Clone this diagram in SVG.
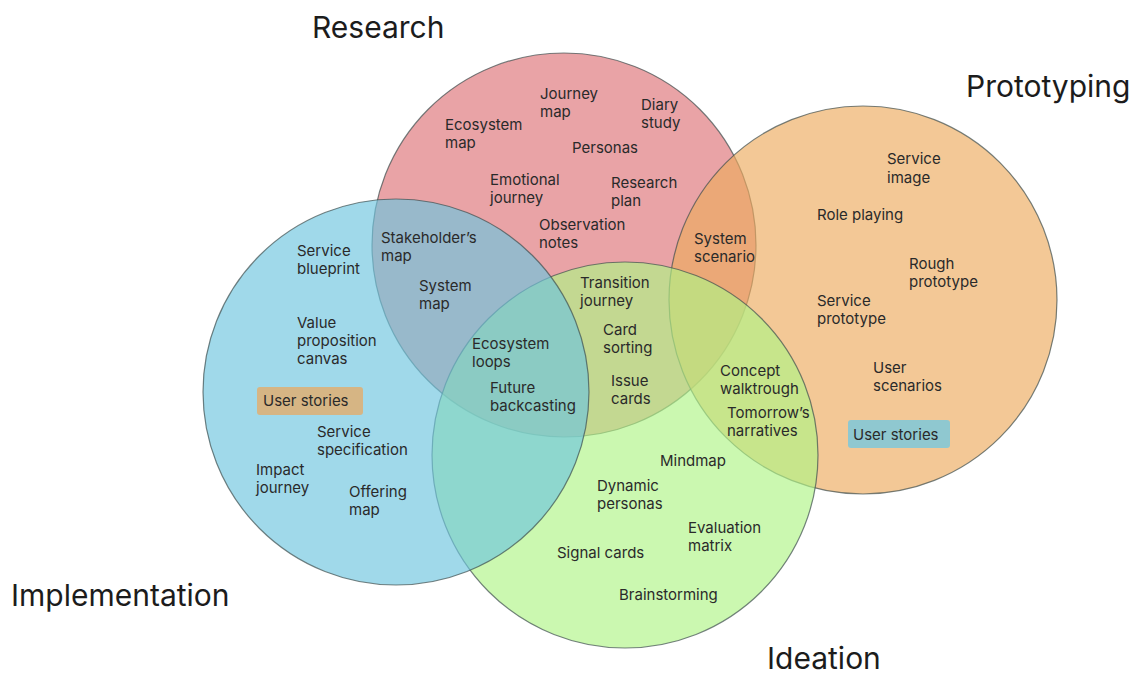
<svg xmlns="http://www.w3.org/2000/svg" width="1134" height="675" viewBox="0 0 1134 675">
  <style>
    .set { fill-opacity: 0.65; stroke: #3f4f4f; stroke-opacity: 0.7; stroke-width: 1.2; }
    .lbl { font-family: Inter, "Noto Sans", "Liberation Sans", sans-serif; font-size: 15px; fill: #2a2a2a; }
    .head { font-family: Inter, "Noto Sans", "Liberation Sans", sans-serif; font-size: 30px; fill: #1c1c1c; }
  </style>
  <rect width="1134" height="675" fill="#ffffff"/>

  <g id="research">
    <circle class="set" cx="564" cy="245" r="192" fill="#DD7176"/>
  </g>
  <g id="prototyping">
    <circle class="set" cx="863" cy="300" r="194" fill="#EDAA5E"/>
  </g>
  <g id="ideation">
    <circle class="set" cx="625" cy="455" r="193" fill="#AFF486"/>
  </g>
  <g id="implementation">
    <circle class="set" cx="396" cy="392" r="193" fill="#6DC5DF"/>
  </g>

  <g id="connectors"></g>

  <g id="headings">
    <text class="head" x="312" y="38">Research</text>
    <text class="head" x="966" y="97">Prototyping</text>
    <text class="head" x="11" y="606">Implementation</text>
    <text class="head" x="767" y="669">Ideation</text>
  </g>

  <g id="research-labels">
    <text class="lbl" x="540" y="99">Journey<tspan x="540" dy="18">map</tspan></text>
    <text class="lbl" x="641" y="110">Diary<tspan x="641" dy="18">study</tspan></text>
    <text class="lbl" x="445" y="130">Ecosystem<tspan x="445" dy="18">map</tspan></text>
    <text class="lbl" x="572" y="153">Personas</text>
    <text class="lbl" x="490" y="185">Emotional<tspan x="490" dy="18">journey</tspan></text>
    <text class="lbl" x="611" y="188">Research<tspan x="611" dy="18">plan</tspan></text>
    <text class="lbl" x="539" y="230">Observation<tspan x="539" dy="18">notes</tspan></text>
  </g>

  <g id="overlap-labels">
    <text class="lbl" x="381" y="243">Stakeholder’s<tspan x="381" dy="18">map</tspan></text>
    <text class="lbl" x="419" y="291">System<tspan x="419" dy="18">map</tspan></text>
    <text class="lbl" x="694" y="244">System<tspan x="694" dy="18">scenario</tspan></text>
    <text class="lbl" x="580" y="288">Transition<tspan x="580" dy="18">journey</tspan></text>
    <text class="lbl" x="603" y="335">Card<tspan x="603" dy="18">sorting</tspan></text>
    <text class="lbl" x="472" y="349">Ecosystem<tspan x="472" dy="18">loops</tspan></text>
    <text class="lbl" x="490" y="393">Future<tspan x="490" dy="18">backcasting</tspan></text>
    <text class="lbl" x="611" y="386">Issue<tspan x="611" dy="18">cards</tspan></text>
    <text class="lbl" x="720" y="376">Concept<tspan x="720" dy="18">walktrough</tspan></text>
    <text class="lbl" x="727" y="418">Tomorrow’s<tspan x="727" dy="18">narratives</tspan></text>
  </g>

  <g id="implementation-labels">
    <text class="lbl" x="297" y="256">Service<tspan x="297" dy="18">blueprint</tspan></text>
    <text class="lbl" x="297" y="328">Value<tspan x="297" dy="18">proposition</tspan><tspan x="297" dy="18">canvas</tspan></text>
    <g id="user-stories-impl">
      <rect x="257" y="387" width="106" height="28" rx="3" fill="#D6B584"/>
      <text class="lbl" x="263" y="406">User stories</text>
    </g>
    <text class="lbl" x="317" y="437">Service<tspan x="317" dy="18">specification</tspan></text>
    <text class="lbl" x="256" y="475">Impact<tspan x="256" dy="18">journey</tspan></text>
    <text class="lbl" x="349" y="497">Offering<tspan x="349" dy="18">map</tspan></text>
  </g>

  <g id="prototyping-labels">
    <text class="lbl" x="887" y="164">Service<tspan x="887" dy="19">image</tspan></text>
    <text class="lbl" x="817" y="220">Role playing</text>
    <text class="lbl" x="909" y="269">Rough<tspan x="909" dy="18">prototype</tspan></text>
    <text class="lbl" x="817" y="306">Service<tspan x="817" dy="18">prototype</tspan></text>
    <text class="lbl" x="873" y="373">User<tspan x="873" dy="18">scenarios</tspan></text>
    <g id="user-stories-proto">
      <rect x="848" y="420" width="102" height="28" rx="3" fill="#8FC8D0"/>
      <text class="lbl" x="853" y="440">User stories</text>
    </g>
  </g>

  <g id="ideation-labels">
    <text class="lbl" x="660" y="466">Mindmap</text>
    <text class="lbl" x="597" y="491">Dynamic<tspan x="597" dy="18">personas</tspan></text>
    <text class="lbl" x="688" y="533">Evaluation<tspan x="688" dy="18">matrix</tspan></text>
    <text class="lbl" x="557" y="558">Signal cards</text>
    <text class="lbl" x="619" y="600">Brainstorming</text>
  </g>
</svg>
